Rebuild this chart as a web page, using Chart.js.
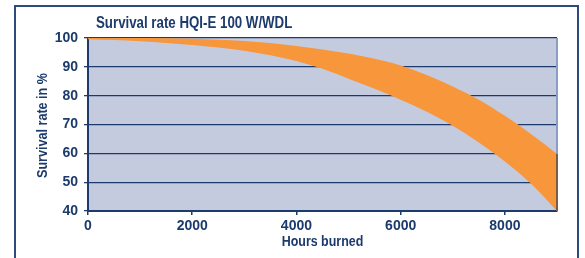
<!DOCTYPE html>
<html>
<head>
<meta charset="utf-8">
<script src="https://cdn.jsdelivr.net/npm/chart.js@4/dist/chart.umd.min.js"></script>
<style>
  body { margin: 0; background: #fff; }
  canvas { display: block; }
</style>
</head>
<body>
<canvas id="survivalChart" width="585" height="258"></canvas>
<script>
const hours = [0, 500, 1000, 1500, 2000, 2500, 3000, 3500, 4000, 4500, 5000, 5500, 6000, 6500, 7000, 7500, 8000, 8500, 9000];
const upperRate = [100, 100, 100, 99.9, 99.7, 99.4, 99.0, 98.3, 97.2, 96.0, 94.6, 92.8, 90.5, 87.2, 83.2, 78.6, 73.0, 66.7, 59.8];
const lowerRate = [99.6, 99.3, 98.9, 98.3, 97.6, 96.7, 95.6, 94.0, 92.0, 89.3, 85.9, 82.4, 78.6, 74.4, 69.6, 63.8, 57.2, 49.5, 40];
const xTicks = [0, 2000, 4000, 6000, 8000];
const yTicks = [40, 50, 60, 70, 80, 90, 100];

const navy = "#1c3a6c";
const sans = "'Liberation Sans', Arial, sans-serif";

const ctx = document.getElementById("survivalChart");

// condensed text: the original uses a narrow Helvetica
function narrowText(c, text, x, y, size, squeeze, angle, align) {
  c.save();
  c.translate(x, y);
  if (angle) c.rotate(angle);
  c.scale(squeeze, 1);
  c.font = "bold " + size + "px " + sans;
  c.fillStyle = navy;
  c.textAlign = align;
  c.textBaseline = "alphabetic";
  c.fillText(text, 0, 0);
  c.restore();
}

const frame = {
  id: "frame",
  beforeDraw(chart) {
    const { ctx, chartArea: a } = chart;
    ctx.save();
    ctx.fillStyle = "#c5cbdf";
    ctx.fillRect(a.left, a.top, a.right - a.left, a.bottom - a.top);
    ctx.strokeStyle = "#2d4a7c";
    ctx.lineWidth = 2;
    ctx.beginPath();
    ctx.moveTo(15, 258);
    ctx.lineTo(15, 6);
    ctx.lineTo(578, 6);
    ctx.lineTo(578, 258);
    ctx.stroke();
    ctx.restore();
    narrowText(ctx, "Survival rate HQI-E 100 W/WDL", 96, 28, 16, 0.83, 0, "left");
    narrowText(ctx, "Hours burned", (a.left + a.right) / 2, 246, 15, 0.83, 0, "center");
    narrowText(ctx, "Survival rate in %", 47, (a.top + a.bottom) / 2 + 1, 15, 0.84, -Math.PI / 2, "center");
  },
  afterDatasetsDraw(chart) {
    const { ctx, chartArea: a, scales } = chart;
    const yUp = scales.y.getPixelForValue(upperRate[upperRate.length - 1]);
    const yLo = scales.y.getPixelForValue(lowerRate[lowerRate.length - 1]);
    ctx.save();
    ctx.lineWidth = 2;
    ctx.strokeStyle = "#8a9ec4";
    ctx.beginPath();
    ctx.moveTo(a.right, a.top);
    ctx.lineTo(a.right, yUp);
    ctx.stroke();
    ctx.strokeStyle = "#7a5f48";
    ctx.beginPath();
    ctx.moveTo(a.right, yUp);
    ctx.lineTo(a.right, yLo);
    ctx.stroke();
    ctx.restore();
  },
};

new Chart(ctx, {
  type: "line",
  data: {
    labels: hours,
    datasets: [
      {
        label: "upper",
        data: hours.map((h, i) => ({ x: h, y: upperRate[i] })),
        borderWidth: 0,
        pointRadius: 0,
        cubicInterpolationMode: "monotone",
        fill: "+1",
        backgroundColor: "#f7963a",
        borderColor: "#f7963a",
      },
      {
        label: "lower",
        data: hours.map((h, i) => ({ x: h, y: lowerRate[i] })),
        borderWidth: 0,
        pointRadius: 0,
        cubicInterpolationMode: "monotone",
        fill: false,
        borderColor: "#f7963a",
      },
    ],
  },
  options: {
    responsive: false,
    animation: false,
    layout: {
      padding: { top: 38, right: 28, bottom: 0, left: 0 },
    },
    scales: {
      x: {
        type: "linear",
        min: 0,
        max: 9000,
        afterBuildTicks: (scale) => {
          scale.ticks = xTicks.map((v) => ({ value: v }));
        },
        afterFit: (scale) => {
          scale.height = 47;
        },
        grid: {
          drawOnChartArea: false,
          drawTicks: true,
          tickLength: 4,
          color: navy,
          lineWidth: 1.5,
        },
        border: { color: navy, width: 2 },
        ticks: {
          padding: 3,
          color: navy,
          maxRotation: 0,
          callback: (v) => String(v),
          font: { family: sans, size: 14, weight: "bold" },
        },
      },
      y: {
        min: 40,
        max: 100,
        afterBuildTicks: (scale) => {
          scale.ticks = yTicks.map((v) => ({ value: v }));
        },
        afterFit: (scale) => {
          scale.width = 88;
        },
        grid: {
          color: navy,
          lineWidth: 1.3,
          tickLength: 4,
        },
        border: { color: navy, width: 2 },
        ticks: {
          padding: 6,
          color: navy,
          font: { family: sans, size: 14, weight: "bold" },
        },
      },
    },
    plugins: {
      legend: { display: false },
      tooltip: { enabled: false },
    },
  },
  plugins: [frame],
});
</script>
</body>
</html>
